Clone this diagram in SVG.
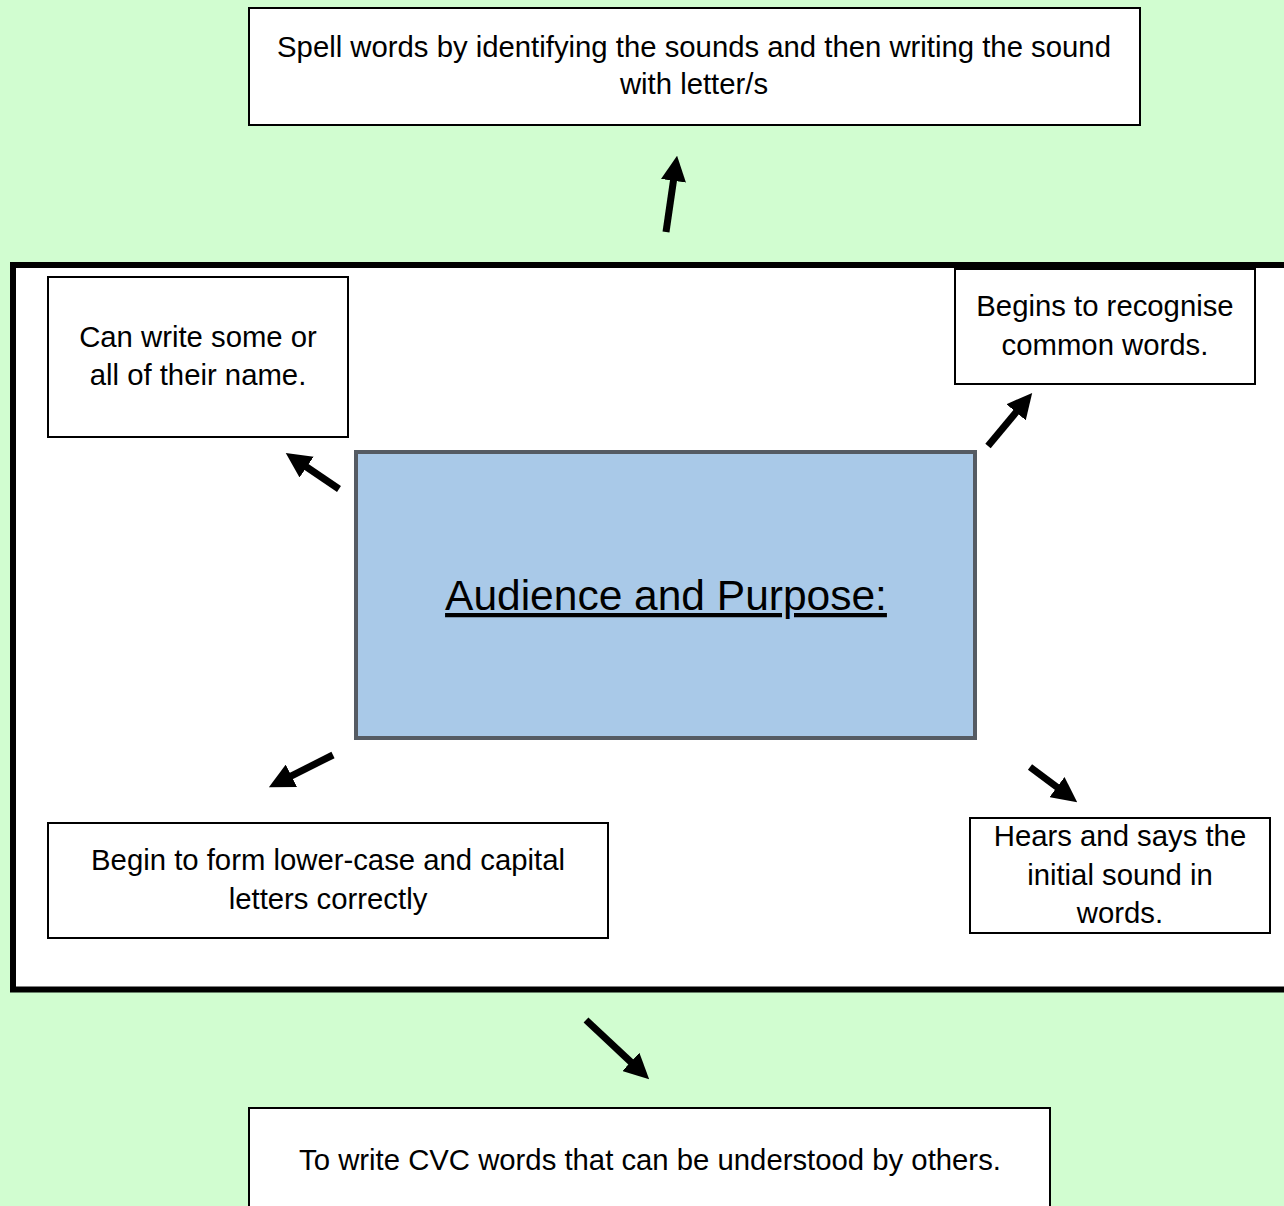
<svg xmlns="http://www.w3.org/2000/svg" width="1284" height="1206" viewBox="0 0 1284 1206">
<defs>
<style>
.bg{fill:#d1fdd0}
.box{fill:#ffffff;stroke:#000;stroke-width:2}
.t{font-family:"Liberation Sans","Open Sans",sans-serif;font-size:29.3px;fill:#000;text-anchor:middle}
.title{font-family:"Liberation Sans",sans-serif;font-size:42.5px;fill:#000;text-anchor:middle;text-decoration:underline}
.arr{stroke:#000;stroke-width:7;fill:none;marker-end:url(#ah)}
</style>
<marker id="ah" viewBox="0 0 10 10" refX="0.4" refY="5" markerWidth="3.6" markerHeight="3.6" markerUnits="strokeWidth" orient="auto">
<path d="M0,0 L10,5 L0,10 Z" fill="#000"/>
</marker>
</defs>
<rect class="bg" x="0" y="0" width="1284" height="1206"/>
<g id="frame"><rect x="13" y="265" width="1290" height="724.5" fill="#fff" stroke="#000" stroke-width="6"/></g>
<g id="top">
<rect class="box" x="249" y="8" width="891" height="117"/>
<text class="t" x="694" y="57">Spell words by identifying the sounds and then writing the sound</text>
<text class="t" x="694" y="94">with letter/s</text>
</g>
<g id="upper-left">
<rect class="box" x="48" y="277" width="300" height="160"/>
<text class="t" x="198" y="347">Can write some or</text>
<text class="t" x="198" y="385">all of their name.</text>
</g>
<g id="upper-right">
<rect class="box" x="955" y="269" width="300" height="115"/>
<text class="t" x="1105" y="316">Begins to recognise</text>
<text class="t" x="1105" y="355">common words.</text>
</g>
<g id="center">
<rect x="356" y="452" width="619" height="286" fill="#a9c9e8" stroke="#555b63" stroke-width="4"/>
<text class="title" x="666" y="610">Audience and Purpose:</text>
</g>
<g id="lower-left">
<rect class="box" x="48" y="823" width="560" height="115"/>
<text class="t" x="328" y="870">Begin to form lower-case and capital</text>
<text class="t" x="328" y="909">letters correctly</text>
</g>
<g id="lower-right">
<rect class="box" x="970" y="818" width="300" height="115"/>
<text class="t" x="1120" y="846">Hears and says the</text>
<text class="t" x="1120" y="885">initial sound in</text>
<text class="t" x="1120" y="923">words.</text>
</g>
<g id="bottom">
<rect class="box" x="249" y="1108" width="801" height="120"/>
<text class="t" x="650" y="1170">To write CVC words that can be understood by others.</text>
</g>
<g id="connectors">
<line class="arr" x1="666" y1="232" x2="673.6" y2="179.8"/>
<line class="arr" x1="339" y1="489" x2="305.8" y2="466.5"/>
<line class="arr" x1="988" y1="446" x2="1016.7" y2="411.5"/>
<line class="arr" x1="333" y1="755" x2="290.5" y2="776.3"/>
<line class="arr" x1="1030" y1="767" x2="1057.8" y2="787.7"/>
<line class="arr" x1="586" y1="1020" x2="631.5" y2="1062.6"/>
</g>
</svg>
